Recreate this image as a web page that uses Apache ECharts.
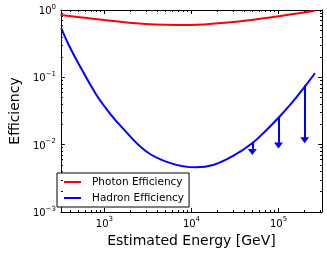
<!DOCTYPE html>
<html><head><meta charset="utf-8">
<script src="https://cdn.jsdelivr.net/npm/echarts@6/dist/echarts.min.js"></script>
<style>html,body{margin:0;padding:0;background:#fff}#c{width:327px;height:254px}</style>
</head><body><div id="c"></div>
<script>
// ---- data ----
const energyPhoton = [313, 933, 2972, 9441, 30060, 68550, 140900, 261200];
const photonEff    = [0.843, 0.718, 0.619, 0.599, 0.664, 0.753, 0.863, 0.977];

const energyHadron = [319, 398, 501, 800, 1122, 1560, 2972, 5623, 11220, 17783, 30060, 51170, 72440, 102600, 144500, 207000, 263000];
const hadronEff    = [0.535, 0.284, 0.162, 0.056, 0.0305, 0.0185, 0.00805, 0.00536, 0.0046, 0.00498, 0.00679, 0.0108, 0.0164, 0.026, 0.0427, 0.0769, 0.115];

const limitEnergy  = [50000, 100000, 200000];
const limitTop     = [0.0108, 0.026, 0.077];
const limitBottom  = [0.0078, 0.0097, 0.0116];

const xMajorTicks = [1000, 10000, 100000];
const xMinorTicks = [400, 500, 600, 700, 800, 900, 2000, 3000, 4000, 5000, 6000, 7000, 8000, 9000,
                     20000, 30000, 40000, 50000, 60000, 70000, 80000, 90000, 200000, 300000];
const yMajorTicks = [0.001, 0.01, 0.1, 1];
const yMinorTicks = [0.002, 0.003, 0.004, 0.005, 0.006, 0.007, 0.008, 0.009,
                     0.02, 0.03, 0.04, 0.05, 0.06, 0.07, 0.08, 0.09,
                     0.2, 0.3, 0.4, 0.5, 0.6, 0.7, 0.8, 0.9];

const seriesNames = ['Photon Efficiency', 'Hadron Efficiency'];
const xName = 'Estimated Energy [GeV]';
const yName = 'Efficiency';

// ---- chart ----
const FONT = 'DejaVu Sans';
const XMIN = Math.pow(10, 2.5), XMAX = Math.pow(10, 5.5);
const YMIN = 0.001, YMAX = 1;
const GRID = {left: 53, right: 5, top: 10, bottom: 42};
const W = 327, H = 254;
const PX_PER_DEC_X = (W - GRID.left - GRID.right) / 3;
const PX_PER_DEC_Y = (H - GRID.top - GRID.bottom) / 3;
const MAJOR_LEN = 4, MINOR_LEN = 2;
const rich = {
  b: {fontSize: 10, fontFamily: FONT, color: '#000', lineHeight: 13, verticalAlign: 'bottom'},
  s: {fontSize: 7, fontFamily: FONT, color: '#000', lineHeight: 8, verticalAlign: 'top'}
};
function powLabel(v) {
  const e = Math.round(Math.log10(v));
  return '{b|10}{s|' + String(e).replace('-', '\u2212') + '}';
}
function mkAxis(kind, position, label) {
  const a = {
    type: 'log', logBase: 10, position: position, gridIndex: 0,
    axisLine: {show: true, onZero: false, lineStyle: {color: '#000', width: 1}},
    splitLine: {show: false},
    axisTick: {show: false},
    minorTick: {show: false},
    axisLabel: {show: false}
  };
  if (kind === 'x') { a.min = XMIN; a.max = XMAX; } else { a.min = YMIN; a.max = YMAX; }
  if (label) {
    a.axisLabel = {show: true, customValues: kind === 'x' ? xMajorTicks : yMajorTicks,
                   formatter: powLabel, rich: rich, margin: kind === 'x' ? 4 : 5};
  }
  return a;
}
const xAxes = [mkAxis('x', 'bottom', true), mkAxis('x', 'top', false)];
xAxes[0].name = xName; xAxes[0].nameLocation = 'middle'; xAxes[0].nameGap = 22;
xAxes[0].nameTextStyle = {fontSize: 14, fontFamily: FONT, color: '#000'};
const yAxes = [mkAxis('y', 'left', true), mkAxis('y', 'right', false)];
yAxes[0].name = yName; yAxes[0].nameLocation = 'middle'; yAxes[0].nameGap = 38;
yAxes[0].nameTextStyle = {fontSize: 14, fontFamily: FONT, color: '#000'};

// inward tick marks on all four sides, as short segments placed through the log scales
function fx(len) { return Math.pow(10, len / PX_PER_DEC_X); }
function fy(len) { return Math.pow(10, len / PX_PER_DEC_Y); }
const tickLines = [];
[[xMajorTicks, MAJOR_LEN], [xMinorTicks, MINOR_LEN]].forEach(([vals, len]) => {
  vals.forEach(v => {
    tickLines.push([{coord: [v, YMIN]}, {coord: [v, YMIN * fy(len)]}]);
    tickLines.push([{coord: [v, YMAX]}, {coord: [v, YMAX / fy(len)]}]);
  });
});
[[yMajorTicks, MAJOR_LEN], [yMinorTicks, MINOR_LEN]].forEach(([vals, len]) => {
  vals.forEach(v => {
    tickLines.push([{coord: [XMIN, v]}, {coord: [XMIN * fx(len), v]}]);
    tickLines.push([{coord: [XMAX, v]}, {coord: [XMAX / fx(len), v]}]);
  });
});

const chart = echarts.init(document.getElementById('c'), null, {renderer: 'canvas'});
chart.setOption({
  animation: false,
  backgroundColor: '#fff',
  grid: Object.assign({show: false}, GRID),
  xAxis: xAxes,
  yAxis: yAxes,
  legend: {
    orient: 'vertical', left: 57, top: 173, padding: [3, 5, 3, 7],
    itemWidth: 17, itemHeight: 2, itemGap: 4, icon: 'rect',
    borderColor: '#000', borderWidth: 1, borderRadius: 0, backgroundColor: '#fff',
    textStyle: {fontSize: 10.5, fontFamily: FONT, color: '#000', lineHeight: 12, padding: [0, 0, 0, 6]},
    data: seriesNames
  },
  series: [
    {
      name: seriesNames[0], type: 'line', smooth: 0.4, showSymbol: false, symbol: 'none',
      color: '#ff0000', lineStyle: {color: '#ff0000', width: 2}, z: 3, clip: false,
      data: energyPhoton.map((x, i) => [x, photonEff[i]]),
      markLine: {
        silent: true, animation: false, symbol: ['none', 'none'], label: {show: false},
        lineStyle: {color: '#000', width: 1, type: 'solid', opacity: 1},
        emphasis: {disabled: true},
        data: tickLines
      }
    },
    {
      name: seriesNames[1], type: 'line', smooth: 0.4, showSymbol: false, symbol: 'none',
      color: '#0000ff', lineStyle: {color: '#0000ff', width: 2}, z: 3,
      data: energyHadron.map((x, i) => [x, hadronEff[i]]),
      markLine: {
        silent: true, animation: false, symbol: ['none', 'triangle'], symbolSize: [9, 6],
        label: {show: false},
        lineStyle: {color: '#0000ff', width: 2, type: 'solid'},
        itemStyle: {color: '#0000ff'},
        data: limitEnergy.map((x, i) => [{coord: [x, limitTop[i]]}, {coord: [x, limitBottom[i]]}])
      }
    }
  ]
});
</script></body></html>
